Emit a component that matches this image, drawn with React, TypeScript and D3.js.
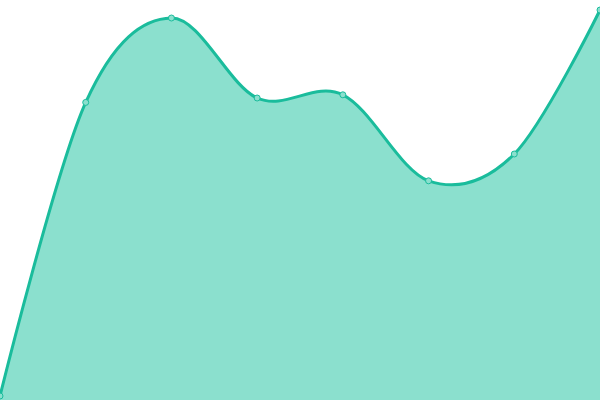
import React from "react";
import * as d3 from "d3";

const labels = ["A", "B", "C", "D", "E", "F", "G", "H"];
const values = [1, 74.4, 95.5, 75.5, 76.3, 54.8, 61.5, 97.5];

const W = 600;
const H = 400;

export default function App() {
  const x = d3.scalePoint<string>().domain(labels).range([0, W]);
  const y = d3.scaleLinear().domain([0, 100]).range([H, 0]);
  const pts = labels.map((l, i) => ({ l, v: values[i] }));
  const curve = d3.curveCardinal;
  const area = d3
    .area<{ l: string; v: number }>()
    .x((d) => x(d.l) as number)
    .y0(H)
    .y1((d) => y(d.v))
    .curve(curve);
  const line = d3
    .line<{ l: string; v: number }>()
    .x((d) => x(d.l) as number)
    .y((d) => y(d.v))
    .curve(curve);
  return (
    <svg
      width={W}
      height={H}
      style={{ position: "absolute", left: 0, top: 0, display: "block" }}
    >
      <path d={area(pts) || ""} fill="#8be0ce" />
      <path d={line(pts) || ""} fill="none" stroke="#1abc9c" strokeWidth={3} />
      {pts.map((d) => (
        <circle
          key={d.l}
          cx={x(d.l) as number}
          cy={y(d.v)}
          r={3}
          fill="#8be0ce"
          stroke="#1abc9c"
          strokeWidth={1}
        />
      ))}
    </svg>
  );
}
